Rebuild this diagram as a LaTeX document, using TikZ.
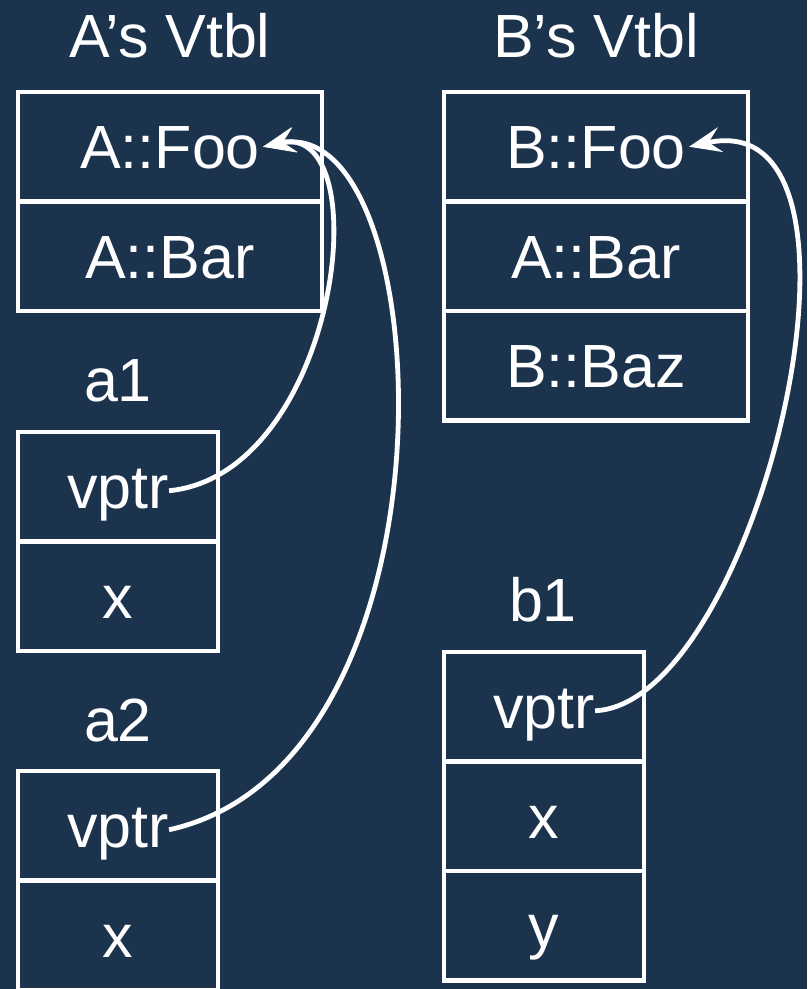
\documentclass[tikz,border=0pt]{standalone}
\usepackage{fontspec}
\setmainfont{Liberation Sans}
\usetikzlibrary{arrows.meta}
\definecolor{navy}{RGB}{28,51,78}
\begin{document}
\begin{tikzpicture}[x=1pt,y=-1pt,
  cell/.style={draw=white, line width=4.4pt, minimum height=109.5pt, inner sep=0pt},
  wide/.style={cell, minimum width=304pt},
  narrow/.style={cell, minimum width=200pt},
  txt/.style={text=white, inner sep=0pt, font=\fontsize{61}{70}\selectfont,
              text height=43.7pt, text depth=0pt},
  link/.style={draw=white, line width=4.8pt,
               -{Stealth[length=32pt,width=25pt,inset=12pt]}}]
\fill[navy] (0,0) rectangle (807,989);
\useasboundingbox (0,0) rectangle (807,989);

% A's vtable
\node[txt] (atitle) at (170,36) {A’s Vtbl};
\node[wide] (av1) at (170,146.75) {};
\node[wide] (av2) at (170,256.25) {};
\node[txt] (afoo) at (av1) {A::Foo};
\node[txt] (abar) at (av2) {A::Bar};

% B's vtable
\node[txt] (btitle) at (596,36) {B’s Vtbl};
\node[wide] (bv1) at (596,146.75) {};
\node[wide] (bv2) at (596,256.25) {};
\node[wide] (bv3) at (596,365.75) {};
\node[txt] (bfoo) at (bv1) {B::Foo};
\node[txt] (bbar) at (bv2) {A::Bar};
\node[txt] (bbaz) at (bv3) {B::Baz};

% object a1
\node[txt] (a1title) at (118,380) {a1};
\node[narrow] (a1c1) at (118,486.75) {};
\node[narrow] (a1c2) at (118,596.25) {};
\node[txt] (a1vp) at (a1c1) {vptr};
\node[txt] (a1x) at (a1c2) {x};

% object a2
\node[txt] (a2title) at (118,720) {a2};
\node[narrow] (a2c1) at (118,825.75) {};
\node[narrow] (a2c2) at (118,935.25) {};
\node[txt] (a2vp) at (a2c1) {vptr};
\node[txt] (a2x) at (a2c2) {x};

% object b1
\node[txt] (b1title) at (543,600) {b1};
\node[narrow] (b1c1) at (544,706.75) {};
\node[narrow] (b1c2) at (544,816.25) {};
\node[narrow] (b1c3) at (544,925.75) {};
\node[txt] (b1vp) at (b1c1) {vptr};
\node[txt] (b1x) at (b1c2) {x};
\node[txt] (b1y) at (b1c3) {y};

% vptr links into the vtables
\draw[link] ([yshift=-4pt]a1vp.east) .. controls +(170,-17) and +(117,-27) .. ([xshift=3pt]afoo.east);
\draw[link] ([yshift=-4pt]a2vp.east) .. controls +(300,-66) and +(177,-37) .. ([xshift=3pt]afoo.east);
\draw[link] ([yshift=-4pt]b1vp.east) .. controls +(163,-7) and +(211,-47) .. ([xshift=3pt]bfoo.east);
\end{tikzpicture}
\end{document}
